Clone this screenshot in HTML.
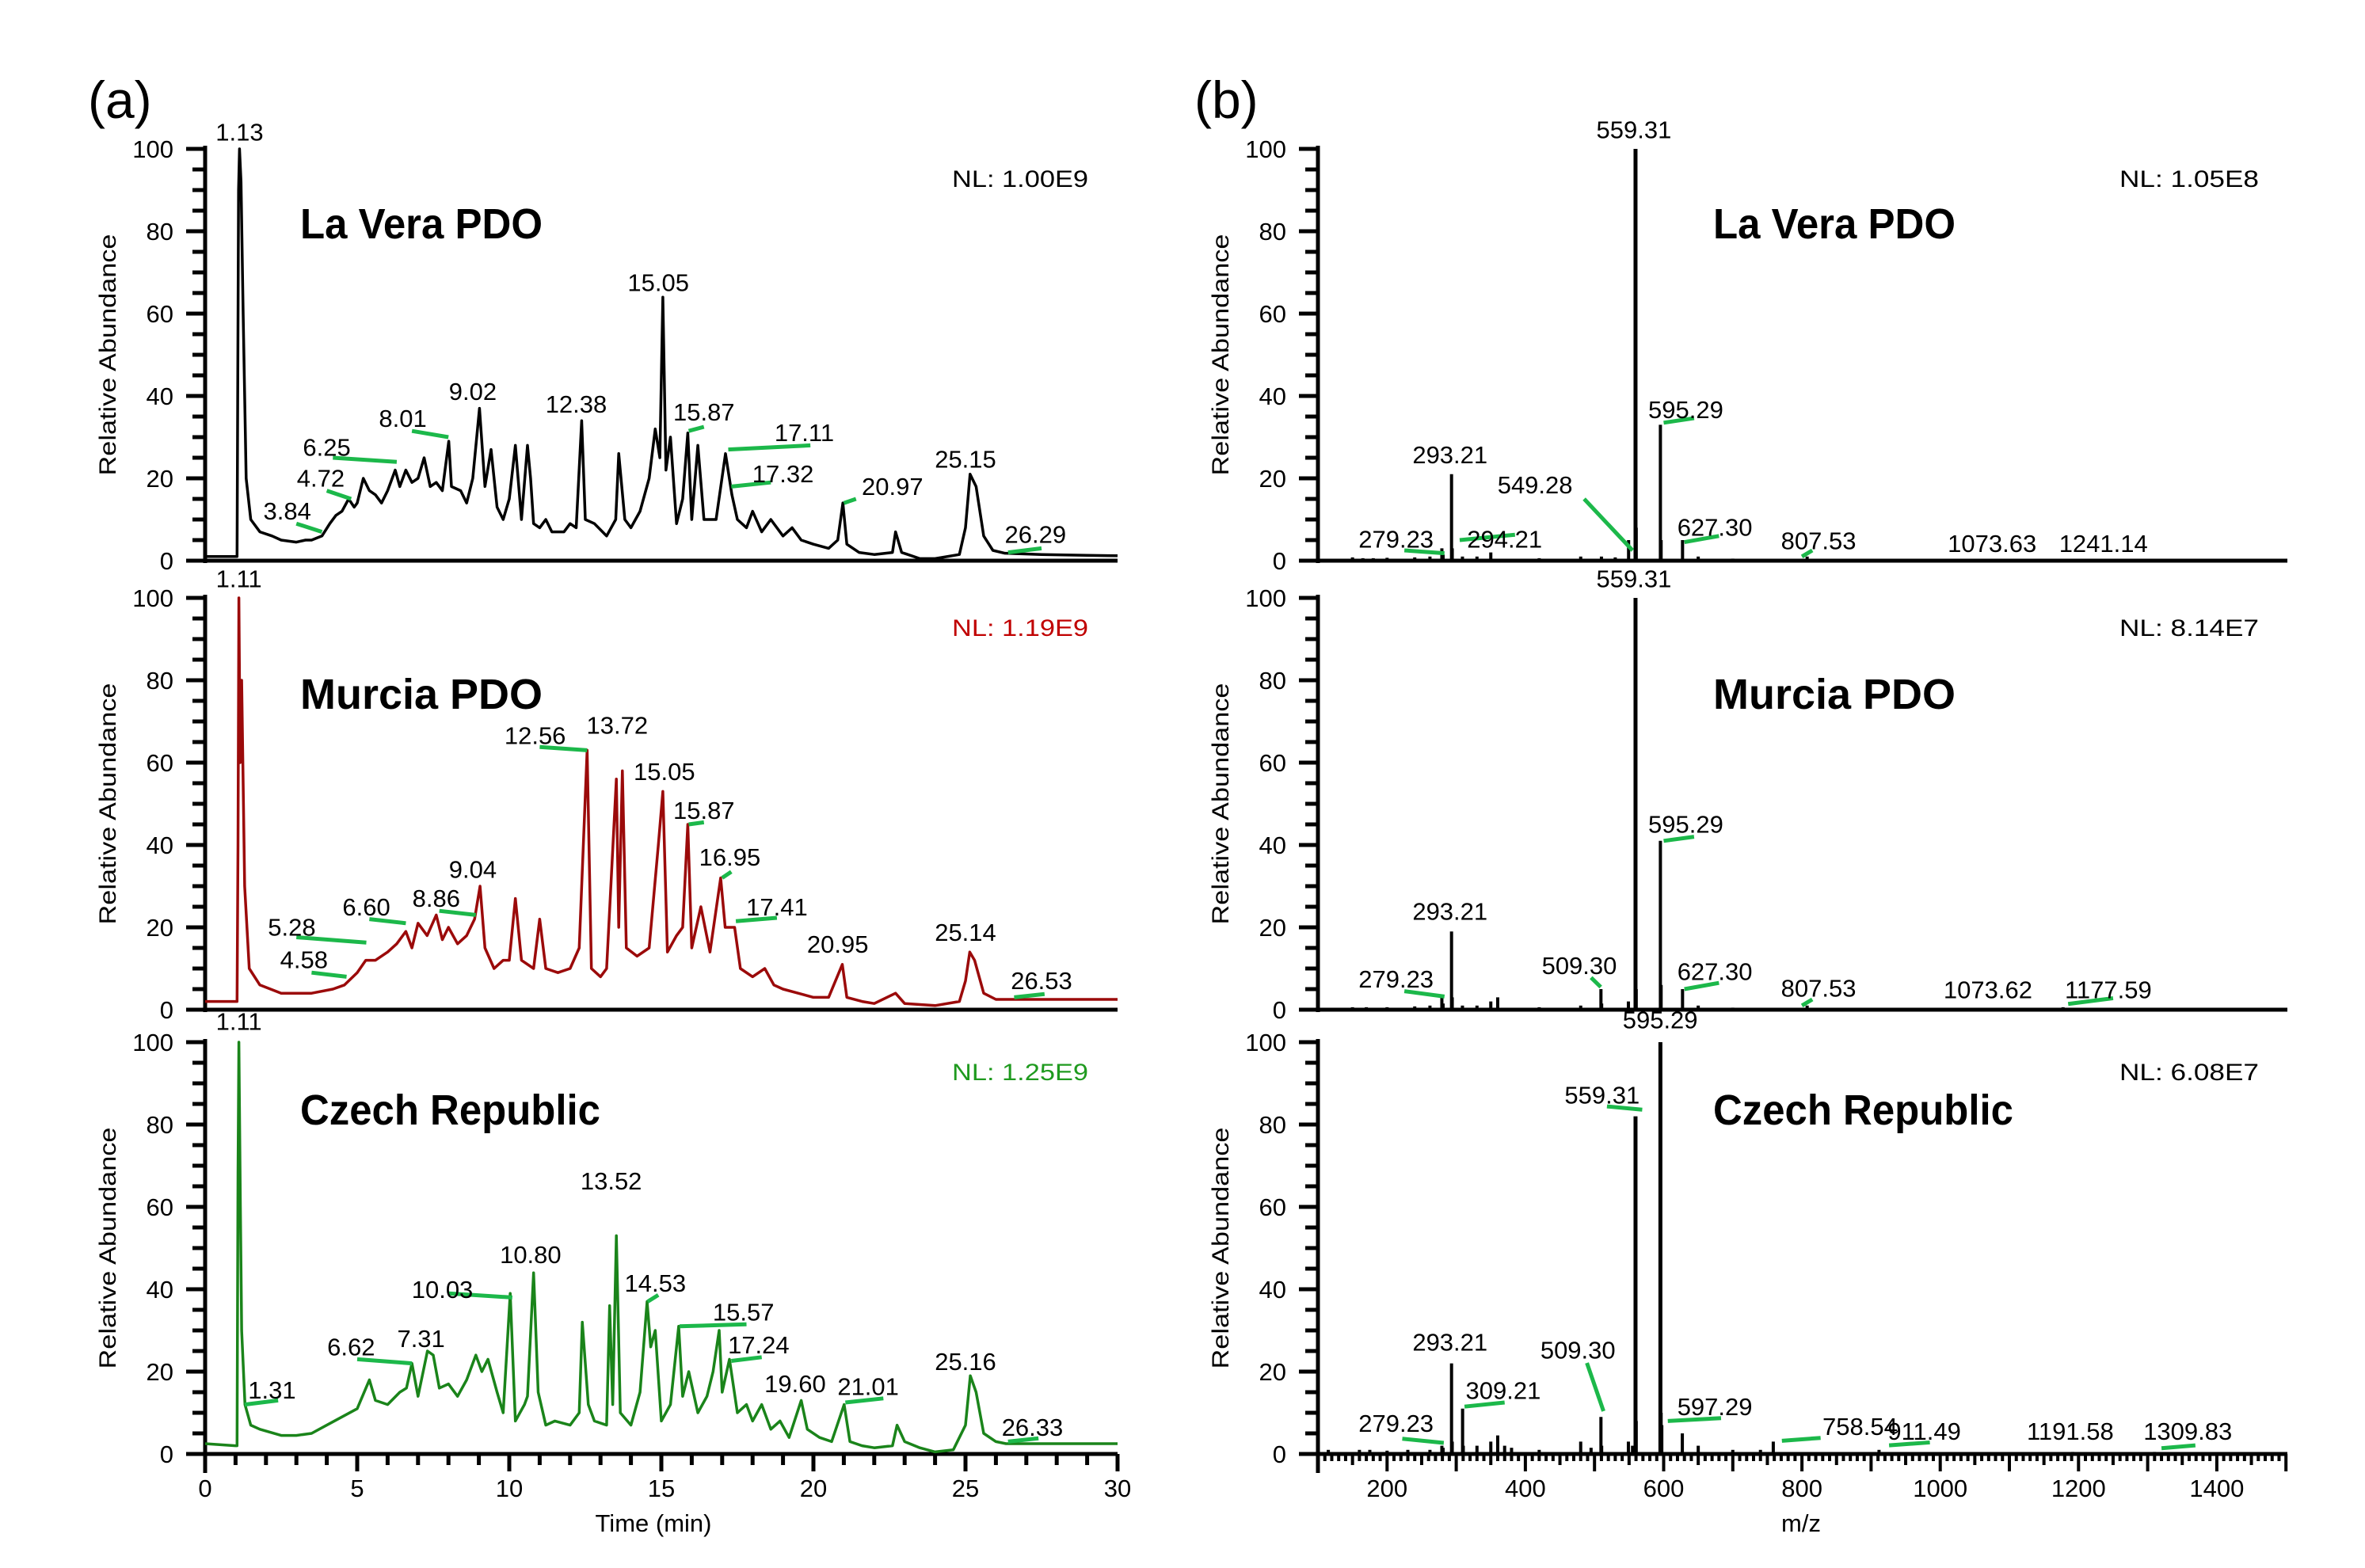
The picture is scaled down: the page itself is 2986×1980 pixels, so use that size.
<!DOCTYPE html>
<html><head><meta charset="utf-8"><style>
html,body{margin:0;padding:0;background:#fff;}
svg{display:block;font-family:"Liberation Sans",sans-serif;}
</style></head><body>
<svg id="fig" width="2986" height="1980" viewBox="0 0 2986 1980" xmlns="http://www.w3.org/2000/svg"></svg>
<script>
// ---------- DATA ----------
const panelTitles = ["La Vera PDO", "Murcia PDO", "Czech Republic"];
const nlA = ["NL: 1.00E9", "NL: 1.19E9", "NL: 1.25E9"];
const nlB = ["NL: 1.05E8", "NL: 8.14E7", "NL: 6.08E7"];
const yTickLabels = ["0","20","40","60","80","100"];
const timeTickLabels = ["0","5","10","15","20","25","30"];
const mzTickLabels = ["200","400","600","800","1000","1200","1400"];

// chromatogram La Vera: time (min), relative abundance
const laveraT = [0,1.0,1.05,1.1,1.13,1.18,1.25,1.35,1.5,1.8,2.2,2.5,3,3.3,3.5,3.84,4.1,4.3,4.5,4.72,4.9,5.0,5.2,5.4,5.6,5.8,6.0,6.25,6.4,6.6,6.8,7.0,7.2,7.4,7.6,7.8,8.01,8.1,8.4,8.6,8.8,9.02,9.2,9.4,9.6,9.8,10.0,10.2,10.4,10.6,10.7,10.8,11.0,11.2,11.4,11.8,12.0,12.2,12.38,12.5,12.8,13.2,13.5,13.6,13.8,14.0,14.3,14.6,14.8,14.95,15.05,15.15,15.3,15.5,15.7,15.87,16.0,16.2,16.4,16.8,17.11,17.32,17.5,17.8,18.0,18.3,18.6,19.0,19.3,19.6,20.0,20.5,20.8,20.97,21.1,21.5,22.0,22.6,22.7,22.9,23.5,24.0,24.8,25.0,25.15,25.35,25.6,25.9,26.29,27.5,29,30];
const laveraV = [1,1,1,90,100,92,60,20,10,7,6,5,4.5,5,5,6,9,11,12,15,13,14,20,17,16,14,17,22,18,22,19,20,25,18,19,17,29,18,17,14,20,37,18,27,13,10,15,28,10,28,20,9,8,10,7,7,9,8,34,10,9,6,10,26,10,8,12,20,32,25,64,22,30,9,15,31,10,28,10,10,26,16,10,8,12,7,10,6,8,5,4,3,5,14,4,2,1.5,2,7,2,0.5,0.5,1.5,8,21,18,6,2.5,1.8,1.5,1.3,1.2];
// Murcia
const murciaT = [0,1.0,1.05,1.08,1.11,1.15,1.2,1.3,1.45,1.8,2.5,3.5,4.2,4.58,5.0,5.28,5.6,6.0,6.3,6.6,6.8,7.0,7.3,7.6,7.8,8.0,8.3,8.6,8.86,9.04,9.2,9.5,9.8,10.0,10.2,10.4,10.8,11.0,11.2,11.6,12.0,12.3,12.56,12.7,13.0,13.2,13.52,13.6,13.72,13.85,14.2,14.6,14.9,15.05,15.2,15.5,15.7,15.87,16.0,16.3,16.6,16.95,17.1,17.41,17.6,18.0,18.4,18.7,19.0,19.5,20.0,20.5,20.95,21.1,21.6,22.0,22.7,23,24,24.8,25.0,25.14,25.3,25.6,26.0,26.53,28,30];
const murciaV = [2,2,2,40,100,60,80,30,10,6,4,4,5,6,9,12,12,14,16,19,15,21,18,23,17,20,16,18,22,30,15,10,12,12,27,12,10,22,10,9,10,15,63,10,8,10,56,20,58,15,13,15,40,53,14,18,20,45,15,25,14,32,20,20,10,8,10,6,5,4,3,3,11,3,2,1.5,4,1.5,1,2,7,14,12,4,2.5,2.5,2.5,2.5];
// Czech
const czechT = [0,1.0,1.05,1.08,1.11,1.16,1.2,1.31,1.5,1.8,2.5,3,3.5,4.0,4.5,5.0,5.4,5.6,6.0,6.4,6.62,6.8,7.0,7.31,7.5,7.7,8.0,8.3,8.6,8.9,9.1,9.3,9.6,9.8,10.03,10.2,10.5,10.6,10.8,10.95,11.2,11.5,12.0,12.3,12.4,12.6,12.8,13.2,13.3,13.4,13.52,13.65,14.0,14.3,14.53,14.65,14.8,15.0,15.3,15.57,15.7,15.9,16.2,16.5,16.7,16.9,17.0,17.24,17.5,17.8,18.0,18.3,18.6,18.9,19.2,19.6,19.8,20.2,20.6,21.01,21.2,21.6,22.0,22.6,22.75,23.0,23.5,24.0,24.6,25.0,25.16,25.35,25.6,26.0,26.33,28,30];
const czechV = [2.5,2,2,68,100,60,30,12,7,6,4.5,4.5,5,7,9,11,18,13,12,15,16,22,14,25,24,16,17,14,18,24,20,23,15,10,39,8,12,14,44,15,7,8,7,10,32,12,8,7,36,12,53,10,7,15,37,26,30,8,12,31,14,20,10,14,20,30,15,23,10,12,8,12,6,8,4,13,6,4,3,12,3,2,1.5,2,7,3,1.5,0.5,1,7,19,15,5,3,2.5,2.5,2.5];

// peak labels: text, text-time, text-value, leader start (t,v), leader end (t,v) (null = no leader)
const labelsA1 = [["1.13",1.13,102,null],["3.84",2.7,10,[3.0,9,3.84,7]],["4.72",3.8,18,[4.0,17,4.8,15]],["6.25",4.0,25.5,[4.2,25,6.3,24]],["8.01",6.5,32.5,[6.8,31.5,8.0,30]],["9.02",8.8,39,null],["12.38",12.2,36,null],["15.05",14.9,65.5,null],["15.87",16.4,34,[15.9,31.5,16.4,32.5]],["17.11",19.7,29,[17.2,27,19.9,28]],["17.32",19.0,19,[17.3,18,18.6,19]],["20.97",22.6,16,[21.0,14,21.4,15]],["25.15",25.0,22.6,null],["26.29",27.3,4.3,[26.4,2,27.5,3]]];
const labelsA2 = [["1.11",1.11,102.6,null],["4.58",3.25,10.1,[3.5,9,4.65,8]],["5.28",2.85,18,[3.0,17.6,5.3,16.3]],["6.60",5.3,22.9,[5.4,22,6.6,21]],["8.86",7.6,25,[7.7,24,8.9,23]],["9.04",8.8,32,null],["12.56",10.85,64.5,[11.0,63.8,12.56,63]],["13.72",13.55,67,null],["15.05",15.1,55.8,null],["15.87",16.4,46.3,[15.9,45,16.4,45.5]],["16.95",17.25,35,[17.0,32,17.3,33.5]],["17.41",18.8,22.9,[17.45,21.5,18.8,22.3]],["20.95",20.8,13.8,null],["25.14",25.0,16.7,null],["26.53",27.5,5,[26.6,3,27.6,3.8]]];
const labelsA3 = [["1.11",1.11,103,null],["1.31",2.2,13.5,[1.3,12,2.4,13]],["6.62",4.8,23.9,[5.0,23,6.8,22]],["7.31",7.1,26,null],["10.03",7.8,37.9,[8.0,39,10.1,38]],["10.80",10.7,46.3,null],["13.52",13.35,64.2,null],["14.53",14.8,39.4,[14.55,37,14.9,38.6]],["15.57",17.7,32.4,[15.6,31,17.8,31.5]],["17.24",18.2,24.4,[17.3,22.6,18.3,23.5]],["19.60",19.4,15,null],["21.01",21.8,14.3,[21.05,12.5,22.3,13.5]],["25.16",25.0,20.4,null],["26.33",27.2,4.4,[26.4,3,27.4,3.8]]];

// mass spectra: m/z and relative abundance
const specMz1 = [150,165,180,200,240,262,279.23,281,293.21,294.21,309,330,350,420,480,510,530,549.28,559.31,560.3,595.29,596.3,627.30,650,700,807.53,1073.63,1241.14];
const specI1  = [0.8,0.6,0.6,0.7,0.8,1,3,1.5,21,3,1,1,2,0.6,1,1,0.8,5,100,8,33,5,5,1,0.5,1,0.4,0.4];
const specMz2 = [150,170,200,240,262,279.23,281,293.21,294.2,309,330,350,360,420,480,509.30,510.3,549,559.31,560.3,595.29,596.3,627.30,650,700,807.53,1073.62,1177.59];
const specI2  = [0.6,0.6,0.6,0.8,1,3,1.5,19,3,1,1,2,3,0.6,1,5,1.5,2,100,5,41,6,5,1,0.5,1,0.4,0.6];
const specMz3 = [115,160,175,200,230,262,279.23,281,293.21,294.2,309.21,310.2,330,350,360,370,380,420,480,495,509.30,510.3,549,555,559.31,560.3,595.29,596.3,597.29,627,650,700,740,758.54,911.49,1191.58,1309.83];
const specI3  = [1,1,1,0.8,1,1,2,1.5,22,3,11,2,2,3,4.5,2,1.5,1,3,1.5,9,2,3,2,82,8,100,10,7,5,2,1,1,3,1,0.5,0.5];

// spectrum labels: text, text-m/z, text-value, leader (mz1,v1,mz2,v2)
const labelsB1 = [["279.23",213,3.2,[225,2.5,283,1.8]],["293.21",291,23.7,null],["294.21",370,3.2,[305,5,385,6.3]],["549.28",414,16.3,[485,15,555,2.5]],["559.31",557,102.6,null],["595.29",632,34.6,[600,33.5,644,34.6]],["627.30",674,6.1,[630,4.5,680,6]],["807.53",824,2.8,[800,1,815,2.5]],["1073.63",1075,2.1,null],["1241.14",1236,2.1,null]];
const labelsB2 = [["279.23",213,5.4,[225,4.5,283,3.2]],["293.21",291,21.8,null],["509.30",478,8.7,[495,7.8,509,5.5]],["559.31",557,102.6,null],["595.29",632,43,[600,41,644,42]],["627.30",674,7.2,[630,5,680,6.5]],["807.53",824,3.2,[800,1,815,2.5]],["1073.62",1069,2.8,null],["1177.59",1243,2.8,[1185,1.4,1250,2.8]]];
const labelsB3 = [["279.23",213,5.4,[222,3.7,282,2.7]],["293.21",291,25.1,null],["309.21",368,13.4,[312,11.5,370,12.5]],["509.30",476,23.2,[489,22.1,513,10.4]],["559.31",511,85.1,[518,84.4,569,83.6]],["595.29",595,103.4,null],["597.29",674,9.4,[606,8,683,8.7]],["758.54",884,4.6,[771,3.2,827,3.9]],["911.49",977,3.5,[926,2.1,985,2.8]],["1191.58",1188,3.5,null],["1309.83",1358,3.5,[1320,1.4,1369,2.1]]];

// ---------- DRAWING ----------
const NS = "http://www.w3.org/2000/svg";
const svg = document.getElementById("fig");
function mk(tag, attrs, parent, txt){
  const e = document.createElementNS(NS, tag);
  for (const k in attrs) e.setAttribute(k, attrs[k]);
  if (txt !== undefined) e.textContent = txt;
  (parent || svg).appendChild(e);
  return e;
}
const Y0 = [708, 1275, 1836];
const YH = 520;
const AX = 259, TPX = 38.4;              // chromatogram x axis
const BX = 1664, MZPX = 0.873;           // spectrum x axis
const xT = t => AX + t * TPX;
const xM = m => BX + (m - 100) * MZPX;
const yV = (p, v) => Y0[p] - v / 100 * YH;
const colors = ["#000000", "#9b0a0a", "#1a841a"];
const nlColors = ["#000000", "#c00000", "#1f9a1f"];
const GREEN = "#1cb84a";

function label(p, xf, arr, grp, nm){
  arr.forEach(l => {
    if (l[3]) {
      const ln = mk("line", {x1: xf(l[3][0]), y1: yV(p, l[3][1]), x2: xf(l[3][2]), y2: yV(p, l[3][3]), stroke: GREEN, "stroke-width": 5}, grp);
      
      
    }
    const t = mk("text", {x: xf(l[1]), y: yV(p, l[2]), "font-size": 31, "text-anchor": "middle", fill: "#000"}, grp, l[0]);
    
    
  });
}

function axes(p, ax, xEnd, grp, nm){
  mk("line", {x1: ax, y1: Y0[p] - YH - 4, x2: ax, y2: Y0[p] + (p === 2 ? 24 : 3), stroke: "#000", "stroke-width": 5}, grp);
  mk("line", {x1: ax - 2, y1: Y0[p], x2: xEnd, y2: Y0[p], stroke: "#000", "stroke-width": 5}, grp);
  for (let v = 0; v <= 100; v += 5) {
    const len = v % 20 === 0 ? 24 : 16;
    mk("line", {x1: ax - len, y1: yV(p, v), x2: ax, y2: yV(p, v), stroke: "#000", "stroke-width": 5}, grp);
  }
  yTickLabels.forEach((s, i) => {
    const t = mk("text", {x: ax - 40, y: yV(p, i * 20) + 11, "font-size": 31, "text-anchor": "end"}, grp, s);
    
    
  });
  const yl = mk("text", {x: 0, y: 0, "font-size": 30, "text-anchor": "middle", textLength: 305, lengthAdjust: "spacingAndGlyphs", transform: `translate(${ax - 113},${Y0[p] - YH / 2}) rotate(-90)`}, grp, "Relative Abundance");
  
  
}

const pl = mk("text", {x: 111, y: 149, "font-size": 66}, svg, "(a)");
 
const pl2 = mk("text", {x: 1508, y: 149, "font-size": 66}, svg, "(b)");
 

const chromT = [laveraT, murciaT, czechT];
const chromV = [laveraV, murciaV, czechV];
const labA = [labelsA1, labelsA2, labelsA3];
const specM = [specMz1, specMz2, specMz3];
const specI = [specI1, specI2, specI3];
const labB = [labelsB1, labelsB2, labelsB3];
const titleLen = [306, 306, 379];
const titleY = [301, 895, 1420];

for (let p = 0; p < 3; p++) {
  // ---- chromatogram ----
  const g = mk("g", {});
  
  
  axes(p, AX, 1411, g, 'chromatogram');
  const d = chromT[p].map((t, i) => (i ? "L" : "M") + xT(t).toFixed(1) + "," + yV(p, chromV[p][i]).toFixed(1)).join(" ");
  const tr = mk("path", {d: d, fill: "none", stroke: colors[p], "stroke-width": 3.5, "stroke-linejoin": "round"}, g);
  
  
  label(p, xT, labA[p], g, 'chromatogram');
  const tt = mk("text", {x: 379, y: titleY[p], "font-size": 54, "font-weight": "bold", textLength: titleLen[p], lengthAdjust: "spacingAndGlyphs"}, g, panelTitles[p]);
  
  
  const nl = mk("text", {x: 1202, y: Y0[p] - 472, "font-size": 30, fill: nlColors[p], textLength: 172, lengthAdjust: "spacingAndGlyphs"}, g, nlA[p]);
  
  

  // ---- spectrum ----
  const h = mk("g", {});
  
  
  axes(p, BX, 2888, h, 'spectrum');
  specM[p].forEach((m, i) => {
    const w = specI[p][i] > 50 ? 5 : 4;
    const s = mk("line", {x1: xM(m), y1: Y0[p], x2: xM(m), y2: yV(p, specI[p][i]), stroke: "#000", "stroke-width": w}, h);
    
    
  });
  label(p, xM, labB[p], h, 'spectrum');
  const tb = mk("text", {x: 2163, y: titleY[p], "font-size": 54, "font-weight": "bold", textLength: titleLen[p], lengthAdjust: "spacingAndGlyphs"}, h, panelTitles[p]);
  
  
  const nb = mk("text", {x: 2676, y: Y0[p] - 472, "font-size": 30, textLength: 176, lengthAdjust: "spacingAndGlyphs"}, h, nlB[p]);
  
  
}

// bottom x axes ticks
const ga = mk("g", {});
 
for (let t = 0; t <= 30; t++) {
  mk("line", {x1: xT(t), y1: Y0[2], x2: xT(t), y2: Y0[2] + (t % 5 === 0 ? 22 : 14), stroke: "#000", "stroke-width": 5}, ga);
}
timeTickLabels.forEach((s, i) => {
  const t = mk("text", {x: xT(i * 5), y: 1890, "font-size": 31, "text-anchor": "middle"}, ga, s);
   
});
const xt = mk("text", {x: 825, y: 1934, "font-size": 31, "text-anchor": "middle"}, ga, "Time (min)");
 

const gb = mk("g", {});
 
for (let m = 100; m <= 1500; m += 10) {
  const len = m % 100 === 0 ? 22 : (m % 50 === 0 ? 14 : 9);
  mk("line", {x1: xM(m), y1: Y0[2], x2: xM(m), y2: Y0[2] + len, stroke: "#000", "stroke-width": 4}, gb);
}
mzTickLabels.forEach((s, i) => {
  const t = mk("text", {x: xM(200 + i * 200), y: 1890, "font-size": 31, "text-anchor": "middle"}, gb, s);
   
});
const mt = mk("text", {x: 2274, y: 1934, "font-size": 31, "text-anchor": "middle"}, gb, "m/z");
 
</script>
</body></html>
